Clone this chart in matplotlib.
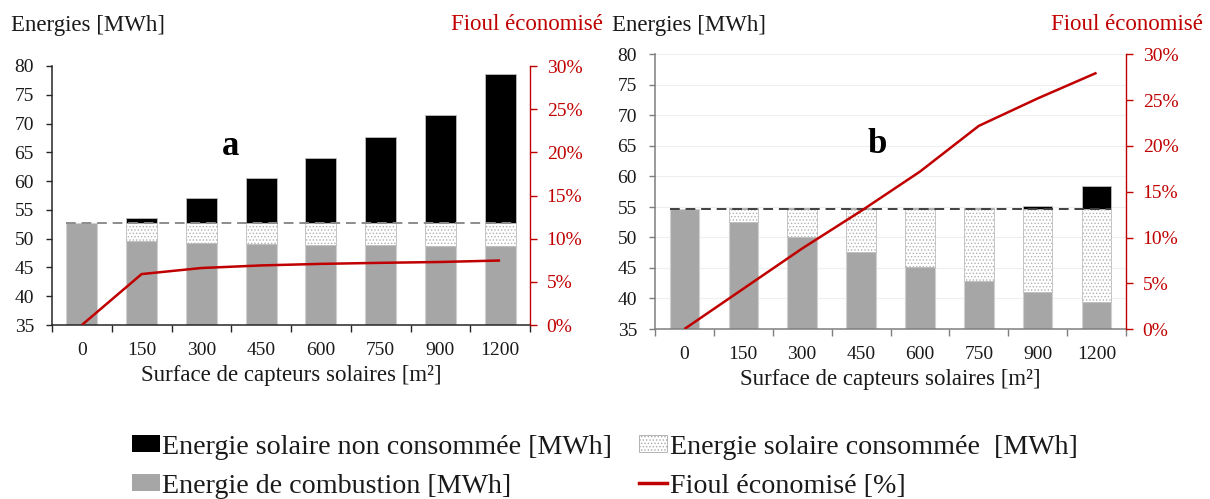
import matplotlib
matplotlib.use("Agg")
import matplotlib.pyplot as plt
from matplotlib.patches import Patch
from matplotlib.lines import Line2D
import numpy as np

plt.rcParams['font.family'] = ['Liberation Serif', 'DejaVu Serif']
plt.rcParams['hatch.linewidth'] = 0.6

categories = ['0', '150', '300', '450', '600', '750', '900', '1200']

# Panel a
a_reference = 52.8
a_combustion = [52.8, 49.6, 49.3, 49.05, 48.95, 48.85, 48.8, 48.75]
a_total_top = [52.8, 53.6, 57.0, 60.5, 64.1, 67.7, 71.4, 78.6]
a_fioul = [0.0, 5.9, 6.6, 6.9, 7.08, 7.2, 7.3, 7.47]

# Panel b
b_reference = 54.65
b_combustion = [54.65, 52.5, 50.1, 47.7, 45.2, 42.9, 41.0, 39.45]
b_total_top = [54.65, 54.8, 54.8, 54.8, 54.8, 54.8, 55.15, 58.4]
b_fioul = [0.0, 4.4, 8.8, 12.9, 17.2, 22.2, 25.2, 28.0]

RED = '#c00000'
GRAY = '#a6a6a6'

fig = plt.figure(figsize=(12.1, 4.99), dpi=100)
W, H = 1210, 499


def make_panel(rect, comb, tops, ref, fioul, letter, letter_xy, width,
               spine_col, dash_col, grid, xlabel_y):
    ax = fig.add_axes(rect)
    x = np.arange(len(categories))
    comb = np.array(comb)
    tops = np.array(tops)
    consumed = ref - comb
    unconsumed = np.clip(tops - ref, 0, None)
    if grid:
        ax.set_axisbelow(True)
        ax.yaxis.grid(True, color='#efefef', lw=0.8)
    ax.bar(x, comb, width, bottom=0, color=GRAY, edgecolor='#d0d0d0', lw=0.8, zorder=2)
    ax.bar(x[1:], consumed[1:], width, bottom=comb[1:], color='white',
           edgecolor='#b0b0b0', hatch='.....', lw=0.5, zorder=2)
    ax.bar(x[1:], unconsumed[1:], width, bottom=ref, color='black',
           edgecolor='#bdbdbd', lw=0.6, zorder=2)
    ax.hlines(ref, -width / 2, len(categories) - 1 + width / 2, colors=dash_col,
              linestyles=(0, (5, 3)), lw=1.4, zorder=3)
    ax.set_xlim(-0.5, len(categories) - 0.5)
    ax.set_ylim(35, 80)
    ax.set_yticks(np.arange(35, 81, 5))
    ax.set_xticks(x)
    ax.set_xticklabels(categories)
    ax.set_xticks(np.arange(-0.5, len(categories), 1), minor=True)
    ax.tick_params(axis='x', which='major', length=0, pad=12, labelsize=14, colors='#1a1a1a')
    ax.tick_params(axis='x', which='minor', length=5, width=1, direction='out', color=spine_col)
    ax.tick_params(axis='y', length=4, width=1, direction='out', pad=9,
                   labelsize=14, color=spine_col, labelcolor='#1a1a1a')
    for s in ['top', 'right']:
        ax.spines[s].set_visible(False)
    for s in ['left', 'bottom']:
        ax.spines[s].set_color(spine_col)
        ax.spines[s].set_linewidth(1.1)

    ax2 = ax.twinx()
    ax2.plot(x, fioul, color=RED, lw=1.8, zorder=5, solid_capstyle='butt')
    ax2.set_ylim(0, 30)
    ax2.set_yticks(np.arange(0, 31, 5))
    ax2.set_yticklabels([f'{v}%' for v in range(0, 31, 5)])
    ax2.tick_params(axis='y', length=5, width=1, direction='out', pad=7,
                    labelsize=14, color=RED, labelcolor=RED)
    for s in ['top', 'left', 'bottom']:
        ax2.spines[s].set_visible(False)
    ax2.spines['right'].set_color(RED)
    ax2.spines['right'].set_linewidth(1.0)

    fig.text(letter_xy[0] / W, 1 - letter_xy[1] / H, letter, fontsize=25,
             fontweight='bold', ha='center', va='center')
    cx = rect[0] + rect[2] / 2
    fig.text(cx, 1 - xlabel_y / H, 'Surface de capteurs solaires [m²]', fontsize=16.5,
             ha='center', va='center', color='#1a1a1a')
    return ax, ax2


make_panel([52 / W, 1 - 325 / H, 478 / W, 259 / H], a_combustion, a_total_top,
           a_reference, a_fioul, 'a', (231, 146), 0.52, '#262626', '#8c8c8c', False, 376)
make_panel([655 / W, 1 - 329 / H, 471 / W, 274.5 / H], b_combustion, b_total_top,
           b_reference, b_fioul, 'b', (877, 144), 0.5, '#7f7f7f', '#404040', True, 380)

# Header texts
fig.text(11 / W, 1 - 25 / H, 'Energies [MWh]', fontsize=16.5, ha='left', va='center', color='#1a1a1a')
fig.text(603 / W, 1 - 25 / H, 'Fioul économisé', fontsize=16.5, ha='right', va='center', color=RED)
fig.text(612 / W, 1 - 25 / H, 'Energies [MWh]', fontsize=16.5, ha='left', va='center', color='#1a1a1a')
fig.text(1203 / W, 1 - 25 / H, 'Fioul économisé', fontsize=16.5, ha='right', va='center', color=RED)

handles = [
    Patch(facecolor='black', edgecolor='black', lw=0),
    Patch(facecolor=GRAY, edgecolor=GRAY, lw=0),
    Patch(facecolor='white', edgecolor='#a8a8a8', hatch='.....', lw=0.6),
    Line2D([0], [0], color=RED, lw=2.5),
]
labels = [
    'Energie solaire non consommée [MWh]',
    'Energie de combustion [MWh]',
    'Energie solaire consommée  [MWh]',
    'Fioul économisé [%]',
]
leg = fig.legend(handles, labels, ncol=2, loc='upper left',
                 bbox_to_anchor=(126 / W, 1 - 429 / H), frameon=False,
                 fontsize=20.2, handlelength=1.0, handleheight=0.55,
                 handletextpad=0.1, columnspacing=0.95, labelspacing=0.5,
                 borderpad=0.2, borderaxespad=0)
for t in leg.get_texts():
    t.set_color('#1a1a1a')

fig.savefig('out.png', dpi=100)
